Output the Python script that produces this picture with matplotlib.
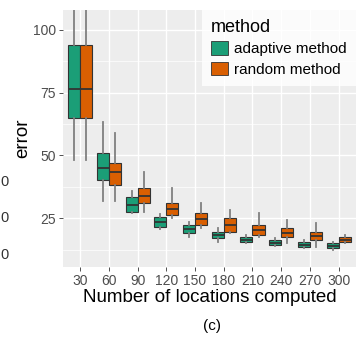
import matplotlib
matplotlib.use('Agg')
import matplotlib.pyplot as plt
from matplotlib.patches import Patch
import numpy as np

plt.rcParams['font.family'] = ['Liberation Sans', 'DejaVu Sans']

# number of locations computed
categories = ['30', '60', '90', '120', '150', '180', '210', '240', '270', '300']

# adaptive method box stats
adaptive_lo = [48, 32, 27, 20.5, 17.5, 15.5, 15, 13.8, 13, 12.5]
adaptive_q1 = [65, 40.2, 27.5, 21.5, 19, 17, 15.5, 14.3, 13.5, 13]
adaptive_med = [76.5, 45, 30.3, 23.5, 20.7, 18.3, 16.5, 15.3, 14.5, 14]
adaptive_q3 = [94, 51, 33.5, 25.5, 22.3, 19.5, 17.5, 16.3, 15.5, 15]
adaptive_hi = [108, 63.3, 36, 26.5, 23.5, 21, 18.5, 17, 16.3, 15.6]

# random method box stats
random_lo = [48, 32, 27.5, 25, 21, 19, 17.5, 15, 13.5, 15]
random_q1 = [65, 38.2, 31, 26.3, 22.3, 19.5, 18.3, 17.5, 16.3, 15.5]
random_med = [76.5, 43.4, 34, 28.5, 24.7, 22.3, 20.3, 19, 18, 16.5]
random_q3 = [94, 47, 37, 31, 27, 25, 22.3, 21, 19.5, 17.5]
random_hi = [108, 59, 43.4, 37, 31, 28.3, 27, 24.3, 23, 18.5]

methods = ['adaptive method', 'random method']
colors = ['#1B9E77', '#D95F02']


def make_stats(lo, q1, med, q3, hi):
    return [dict(whislo=a, q1=b, med=c, q3=d, whishi=e, fliers=[])
            for a, b, c, d, e in zip(lo, q1, med, q3, hi)]


fig = plt.figure(figsize=(3.62, 3.4), dpi=100)
ax = fig.add_axes([0.174, 0.215, 0.809, 0.756])
ax.set_facecolor('#EDEDED')
for s in ax.spines.values():
    s.set_visible(False)

# ggplot style grid
x = np.arange(len(categories))
for v in [12.5, 37.5, 62.5, 87.5]:
    ax.axhline(v, color='white', lw=0.5, zorder=0)
for v in [25, 50, 75, 100]:
    ax.axhline(v, color='white', lw=1.0, zorder=0)
for v in x:
    ax.axvline(v, color='white', lw=1.0, zorder=0)

width = 0.42
all_stats = [
    make_stats(adaptive_lo, adaptive_q1, adaptive_med, adaptive_q3, adaptive_hi),
    make_stats(random_lo, random_q1, random_med, random_q3, random_hi),
]
for k, (stats, col) in enumerate(zip(all_stats, colors)):
    pos = x + (k - 0.5) * width
    ax.bxp(stats, positions=pos, widths=width, showfliers=False, showcaps=False,
           patch_artist=True, manage_ticks=False,
           boxprops=dict(facecolor=col, edgecolor='#333333', linewidth=0.8),
           medianprops=dict(color='#333333', linewidth=1.3),
           whiskerprops=dict(color='#808080', linewidth=1.3))

ax.set_xlim(-0.6, len(categories) - 0.4)
ax.set_ylim(5.6, 108)
ax.set_xticks(x)
ax.set_xticklabels(categories)
ax.set_yticks([25, 50, 75, 100])
ax.tick_params(axis='both', colors='#333333', length=3, width=0.6,
               labelsize=10, labelcolor='#4D4D4D', pad=2)
ax.set_xlabel('Number of locations computed', fontsize=13.5, labelpad=1)
ax.set_ylabel('error', fontsize=13.5, labelpad=1)

handles = [Patch(facecolor=c, edgecolor='#333333', linewidth=0.6) for c in colors]
leg = ax.legend(handles, methods, title='method', loc='upper right',
                bbox_to_anchor=(1, 1), borderaxespad=0, frameon=True,
                fancybox=False, fontsize=11, title_fontsize=13,
                handlelength=1.1, handleheight=1.0, handletextpad=0.4,
                labelspacing=0.35, borderpad=0.6)
leg.get_frame().set_facecolor('white')
leg.get_frame().set_edgecolor('none')
leg._legend_box.align = 'left'

fig.text(0.585, 0.04, '(c)', fontsize=11, ha='center', va='center')

# clipped tick labels from neighbouring panel
for yy in [182, 218, 255]:
    fig.text(0.0, 1 - yy / 340, '0', fontsize=10.5, ha='left', va='center', color='#333333')

fig.savefig('out.png', dpi=100)
